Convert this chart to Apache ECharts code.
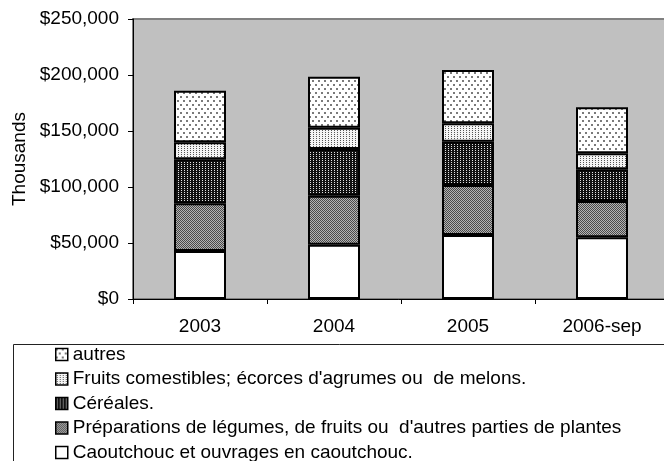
<!DOCTYPE html>
<html>
<head>
<meta charset="utf-8">
<script src="https://cdn.jsdelivr.net/npm/echarts@6/dist/echarts.min.js"></script>
<style>
  html, body { margin: 0; padding: 0; background: #fff; }
  #chart { width: 664px; height: 461px; }
</style>
</head>
<body>
<div id="chart"></div>
<script>
// categories and values (thousands of $)
var categories = ['2003', '2004', '2005', '2006-sep'];
var caoutchouc = [42900, 48500, 57100, 55100];
var preparations = [42500, 43700, 44700, 32400];
var cereales = [39300, 41700, 38600, 28300];
var fruits = [15200, 19000, 16500, 14300];
var autres = [46100, 45500, 47600, 41100];
var yTicks = [0, 50000, 100000, 150000, 200000, 250000];

var seriesNames = [
    'Caoutchouc et ouvrages en caoutchouc.',
    'Préparations de légumes, de fruits ou  d\'autres parties de plantes',
    'Céréales.',
    'Fruits comestibles; écorces d\'agrumes ou  de melons.',
    'autres'
];
var seriesValues = [caoutchouc, preparations, cereales, fruits, autres];

// petits motifs de remplissage (façon Excel)
function makeTile(w, h, bg, dots) {
    var c = document.createElement('canvas');
    c.width = w;
    c.height = h;
    var ctx = c.getContext('2d');
    ctx.fillStyle = bg;
    ctx.fillRect(0, 0, w, h);
    dots.forEach(function (d) {
        ctx.fillStyle = d[4];
        ctx.fillRect(d[0], d[1], d[2], d[3]);
    });
    return { image: c, repeat: 'repeat' };
}

var fills = [
    '#ffffff',
    makeTile(2, 2, '#b4b4b4', [[0, 0, 1, 1, '#4a4a4a'], [1, 1, 1, 1, '#4a4a4a']]),
    makeTile(3, 2, '#111111', [[1, 0, 1, 1, '#e0e0e0']]),
    makeTile(3, 2, '#f4f4f4', [[1, 0, 1, 1, '#555555']]),
    makeTile(6, 8, '#ffffff', [[0, 0, 2, 2, '#7a7a7a'], [3, 4, 2, 2, '#7a7a7a']])
];

var series = seriesNames.map(function (name, i) {
    return {
        name: name,
        type: 'bar',
        stack: 'total',
        barWidth: 52,
        data: seriesValues[i],
        itemStyle: {
            color: fills[i],
            borderColor: '#000',
            borderWidth: 2
        }
    };
});

var chart = echarts.init(document.getElementById('chart'), null, { renderer: 'canvas' });
chart.setOption({
    animation: false,
    textStyle: { fontFamily: 'Liberation Sans, Arial, sans-serif', color: '#000' },
    grid: {
        left: 133,
        right: -5,
        top: 19,
        bottom: 162,
        show: true,
        backgroundColor: '#c0c0c0',
        borderColor: '#808080',
        borderWidth: 2,
        outerBoundsMode: 'none'
    },
    legend: {
        orient: 'vertical',
        left: 55,
        top: 345,
        height: 200,
        padding: 0,
        itemWidth: 12,
        itemHeight: 12,
        itemGap: 5.5,
        icon: 'rect',
        data: seriesNames.slice().reverse(),
        itemStyle: { borderColor: '#000', borderWidth: 1.5 },
        textStyle: { fontSize: 19, color: '#000', fontFamily: 'Liberation Sans, Arial, sans-serif' }
    },
    graphic: [{
        type: 'rect',
        left: 11,
        top: 342,
        shape: { width: 700, height: 160 },
        style: { fill: 'none', stroke: '#222', lineWidth: 1 },
        silent: true
    }],
    xAxis: {
        type: 'category',
        data: categories,
        axisLine: { lineStyle: { color: '#000', width: 1 } },
        axisTick: { show: true, length: 5, lineStyle: { color: '#000' } },
        axisLabel: { fontSize: 19, color: '#000', margin: 18 },
        splitLine: { show: false }
    },
    yAxis: {
        type: 'value',
        min: yTicks[0],
        max: yTicks[yTicks.length - 1],
        interval: yTicks[1] - yTicks[0],
        name: 'Thousands',
        nameLocation: 'middle',
        nameGap: 103,
        nameRotate: 90,
        nameTextStyle: { fontSize: 19, color: '#000' },
        axisLine: { show: true, lineStyle: { color: '#000', width: 1 } },
        axisTick: { show: true, length: 5, lineStyle: { color: '#000' } },
        axisLabel: {
            fontSize: 19,
            color: '#000',
            margin: 14,
            formatter: function (v) { return '$' + v.toLocaleString('en-US'); }
        },
        splitLine: { show: false }
    },
    series: series
});
</script>
</body>
</html>
